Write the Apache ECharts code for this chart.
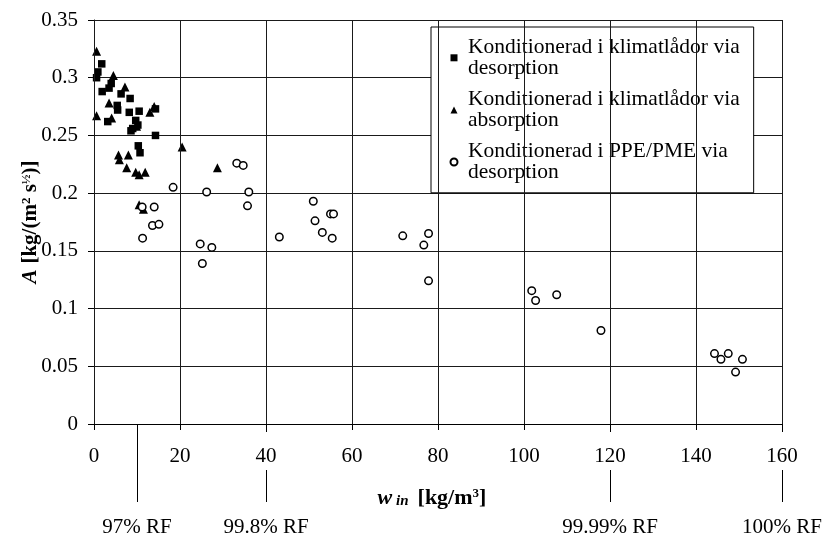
<!DOCTYPE html>
<html>
<head>
<meta charset="utf-8">
<script src="https://cdn.jsdelivr.net/npm/echarts@6/dist/echarts.min.js"></script>
<style>
html,body{margin:0;padding:0;background:#ffffff;}
#chart{width:829px;height:539px;}
</style>
</head>
<body>
<div id="chart"></div>
<script>
// Konditionerad i klimatlådor via desorption (filled squares)
const sqX = [1.8, 0.9, 0.6, 4.0, 3.5, 1.9, 6.3, 8.4, 5.4, 5.5, 14.3, 8.2, 10.5, 3.2, 9.7, 10.2, 9.0, 8.6, 14.3, 10.3, 10.7];
const sqY = [0.312, 0.305, 0.300, 0.295, 0.291, 0.288, 0.286, 0.282, 0.276, 0.272, 0.273, 0.270, 0.271, 0.262, 0.263, 0.259, 0.256, 0.254, 0.250, 0.241, 0.235];
// Konditionerad i klimatlådor via absorption (filled triangles)
const triX = [0.6, 4.5, 7.2, 3.5, 14.0, 13.0, 0.6, 4.1, 9.9, 5.7, 8.0, 5.9, 7.6, 9.7, 10.5, 11.9, 20.5, 28.7, 10.5, 11.5];
const triY = [0.323, 0.302, 0.292, 0.278, 0.275, 0.270, 0.267, 0.265, 0.258, 0.233, 0.233, 0.229, 0.222, 0.218, 0.216, 0.218, 0.240, 0.222, 0.190, 0.186];
// Konditionerad i PPE/PME via desorption (open circles)
const cirX = [18.4, 11.2, 14.0, 13.6, 15.1, 11.3, 33.2, 34.7, 26.2, 36.0, 35.7, 43.1, 24.7, 27.4, 25.2, 51.0, 55.0, 55.7, 51.4, 53.1, 55.4, 71.8, 77.8, 76.7, 77.8, 101.8, 102.7, 107.6, 117.9, 144.3, 145.8, 147.5, 149.2, 150.8];
const cirY = [0.205, 0.188, 0.188, 0.172, 0.173, 0.161, 0.226, 0.224, 0.201, 0.201, 0.189, 0.162, 0.156, 0.153, 0.139, 0.193, 0.182, 0.182, 0.176, 0.166, 0.161, 0.163, 0.165, 0.155, 0.124, 0.1155, 0.107, 0.112, 0.081, 0.061, 0.056, 0.061, 0.045, 0.056];

const seriesNames = [
  'Konditionerad i klimatlådor via\ndesorption',
  'Konditionerad i klimatlådor via\nabsorption',
  'Konditionerad i PPE/PME via\ndesorption'
];

// relative humidity markers below the x axis
const rfValues = [10, 40, 120, 160];
const rfLabels = ['97% RF', '99.8% RF', '99.99% RF', '100% RF'];

const xMin = 0, xMax = 160, xStep = 20;
const yMin = 0, yMax = 0.35, yStep = 0.05;

function pairs(xs, ys) { return xs.map((x, i) => [x, ys[i]]); }

const FONT = 'Liberation Serif';
const chart = echarts.init(document.getElementById('chart'), null, {renderer: 'canvas'});

chart.setOption({
  animation: false,
  backgroundColor: '#ffffff',
  grid: {left: 94, right: 47, top: 20, bottom: 115, containLabel: false},
  legend: {
    orient: 'vertical',
    left: 431,
    top: 27,
    itemWidth: 7,
    itemHeight: 7,
    itemGap: 8.5,
    padding: [9, 14, 9, 18.5],
    backgroundColor: '#ffffff',
    borderColor: '#000000',
    borderWidth: 1,
    borderRadius: 0,
    selectedMode: false,
    textStyle: {
      fontFamily: FONT,
      fontSize: 21.5,
      lineHeight: 21.6,
      color: '#000000',
      padding: [0, 0, 0, 5.5]
    },
    data: seriesNames
  },
  xAxis: [
    {
      type: 'value', min: xMin, max: xMax, interval: xStep,
      position: 'bottom', z: 5,
      name: '{wi|w}{sub| in}   {b|[kg/m}{sup|3}{b|]}',
      nameLocation: 'middle',
      nameGap: 63,
      nameMoveOverlap: false,
      nameTextStyle: {
        fontFamily: FONT, color: '#000000', padding: [0, 12, 0, 0],
        rich: {
          wi: {fontFamily: FONT, fontSize: 22, fontStyle: 'italic', fontWeight: 'bold', color: '#000'},
          sub: {fontFamily: FONT, fontSize: 15, fontStyle: 'italic', fontWeight: 'bold', color: '#000', verticalAlign: 'bottom'},
          b: {fontFamily: FONT, fontSize: 22, fontWeight: 'bold', color: '#000'},
          sup: {fontFamily: FONT, fontSize: 13, fontWeight: 'bold', color: '#000', verticalAlign: 'top'}
        }
      },
      axisLine: {show: true, onZero: false, lineStyle: {color: '#000000', width: 1}},
      axisTick: {show: true, inside: false, length: 6, lineStyle: {color: '#000000'}},
      axisLabel: {
        fontFamily: FONT, fontSize: 21, color: '#000000', margin: 8,
        backgroundColor: '#ffffff', padding: [14, 3, 3, 3]
      },
      splitLine: {show: true, lineStyle: {color: '#1a1a1a', width: 1}}
    },
    {
      type: 'value', min: xMin, max: xMax,
      position: 'bottom', offset: 8, z: 1,
      axisLine: {show: false},
      axisTick: {show: true, inside: false, length: 78, customValues: rfValues, lineStyle: {color: '#000000'}},
      axisLabel: {
        show: true, customValues: rfValues, margin: 85,
        fontFamily: FONT, fontSize: 21, color: '#000000',
        formatter: v => rfLabels[rfValues.indexOf(v)] || ''
      },
      splitLine: {show: false}
    }
  ],
  yAxis: {
    type: 'value', min: yMin, max: yMax, interval: yStep,
    name: '{i|A}  {b|[kg/(m}{sup|2}{b| s}{sup|½}{b|)]}',
    nameLocation: 'middle',
    nameGap: 53,
    nameRotate: 90,
    nameMoveOverlap: false,
    nameTextStyle: {
      fontFamily: FONT, color: '#000000',
      rich: {
        i: {fontFamily: FONT, fontSize: 21, fontStyle: 'italic', fontWeight: 'bold', color: '#000'},
        b: {fontFamily: FONT, fontSize: 21, fontWeight: 'bold', color: '#000'},
        sup: {fontFamily: FONT, fontSize: 13, fontWeight: 'bold', color: '#000', verticalAlign: 'top'}
      }
    },
    axisLine: {show: true, onZero: false, lineStyle: {color: '#000000', width: 1}},
    axisTick: {show: true, inside: false, length: 6, lineStyle: {color: '#000000'}},
    axisLabel: {fontFamily: FONT, fontSize: 21, color: '#000000', margin: 16},
    splitLine: {show: true, lineStyle: {color: '#1a1a1a', width: 1}}
  },
  series: [
    {
      name: seriesNames[0], type: 'scatter', xAxisIndex: 0,
      symbol: 'rect', symbolSize: 7.5,
      itemStyle: {color: '#000000', opacity: 1},
      data: pairs(sqX, sqY)
    },
    {
      name: seriesNames[1], type: 'scatter', xAxisIndex: 0,
      symbol: 'triangle', symbolSize: 9,
      itemStyle: {color: '#000000', opacity: 1},
      data: pairs(triX, triY)
    },
    {
      name: seriesNames[2], type: 'scatter', xAxisIndex: 0,
      symbol: 'circle', symbolSize: 7.5,
      itemStyle: {color: '#ffffff', borderColor: '#000000', borderWidth: 1.5, opacity: 1},
      data: pairs(cirX, cirY)
    }
  ]
});
</script>
</body>
</html>
